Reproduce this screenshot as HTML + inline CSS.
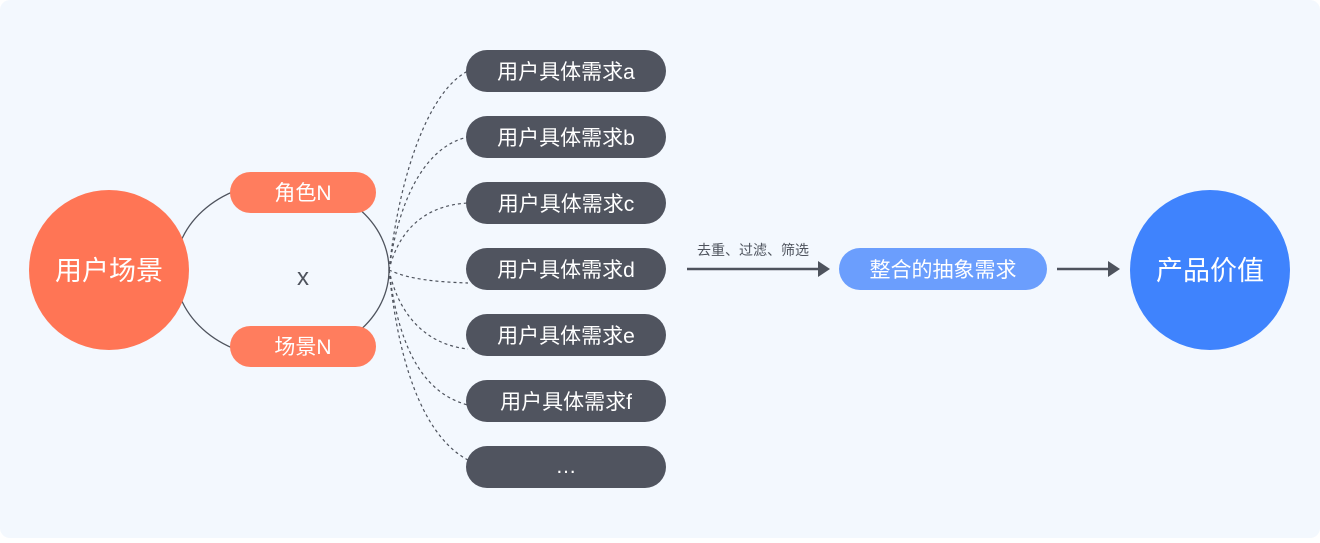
<!DOCTYPE html>
<html><head><meta charset="utf-8"><style>
body{margin:0;width:1320px;height:538px;background:#fff;overflow:hidden}
svg text{font-family:"Liberation Sans","Noto Sans CJK SC",sans-serif}
</style></head><body>
<svg width="1320" height="538" viewBox="0 0 1320 538">
<rect x="0" y="0" width="1320" height="538" rx="10" fill="#f3f8fe"/>
<ellipse cx="282" cy="270" rx="107" ry="88" fill="none" stroke="#4e535d" stroke-width="1.3"/>
<g fill="none" stroke="#4e535d" stroke-width="1.2" stroke-dasharray="3,3">
<path d="M389,270 C400,170 430,90 468,71"/>
<path d="M389,270 C400,190 430,145 468,137"/>
<path d="M389,270 C400,225 430,205 468,203"/>
<path d="M389,270 C410,280 440,282 468,283"/>
<path d="M389,270 C400,320 430,345 468,349"/>
<path d="M389,270 C400,360 430,395 468,405"/>
<path d="M389,270 C400,380 430,440 468,460"/>
</g>
<circle cx="109" cy="270" r="80" fill="#ff7555"/>
<text x="109" y="280" font-size="27" fill="#fff" text-anchor="middle">用户场景</text>
<rect x="230" y="172" width="146" height="41" rx="20.5" fill="#ff7d5e"/>
<text x="303" y="200" font-size="21" fill="#fff" text-anchor="middle">角色N</text>
<rect x="230" y="326" width="146" height="41" rx="20.5" fill="#ff7d5e"/>
<text x="303" y="354" font-size="21" fill="#fff" text-anchor="middle">场景N</text>
<text x="303" y="285" font-size="24" fill="#4e535d" text-anchor="middle">x</text>
<g fill="#50545f">
<rect x="466" y="50" width="200" height="42" rx="21"/>
<rect x="466" y="116" width="200" height="42" rx="21"/>
<rect x="466" y="182" width="200" height="42" rx="21"/>
<rect x="466" y="248" width="200" height="42" rx="21"/>
<rect x="466" y="314" width="200" height="42" rx="21"/>
<rect x="466" y="380" width="200" height="42" rx="21"/>
<rect x="466" y="446" width="200" height="42" rx="21"/>
</g>
<g font-size="21" fill="#fff" text-anchor="middle">
<text x="566" y="79">用户具体需求a</text>
<text x="566" y="145">用户具体需求b</text>
<text x="566" y="211">用户具体需求c</text>
<text x="566" y="277">用户具体需求d</text>
<text x="566" y="343">用户具体需求e</text>
<text x="566" y="409">用户具体需求f</text>
<text x="566" y="473">…</text>
</g>
<text x="753" y="255" font-size="14" fill="#4e535d" text-anchor="middle">去重、过滤、筛选</text>
<line x1="687" y1="269" x2="820" y2="269" stroke="#4e535d" stroke-width="2.5"/>
<polygon points="818,261 830,269 818,277" fill="#4e535d"/>
<rect x="839" y="248" width="208" height="42" rx="21" fill="#6b9efd"/>
<text x="943" y="277" font-size="21" fill="#fff" text-anchor="middle">整合的抽象需求</text>
<line x1="1057" y1="269" x2="1110" y2="269" stroke="#4e535d" stroke-width="2.5"/>
<polygon points="1108,261 1120,269 1108,277" fill="#4e535d"/>
<circle cx="1210" cy="270" r="80" fill="#3f83fd"/>
<text x="1210" y="280" font-size="27" fill="#fff" text-anchor="middle">产品价值</text>
</svg>
</body></html>
